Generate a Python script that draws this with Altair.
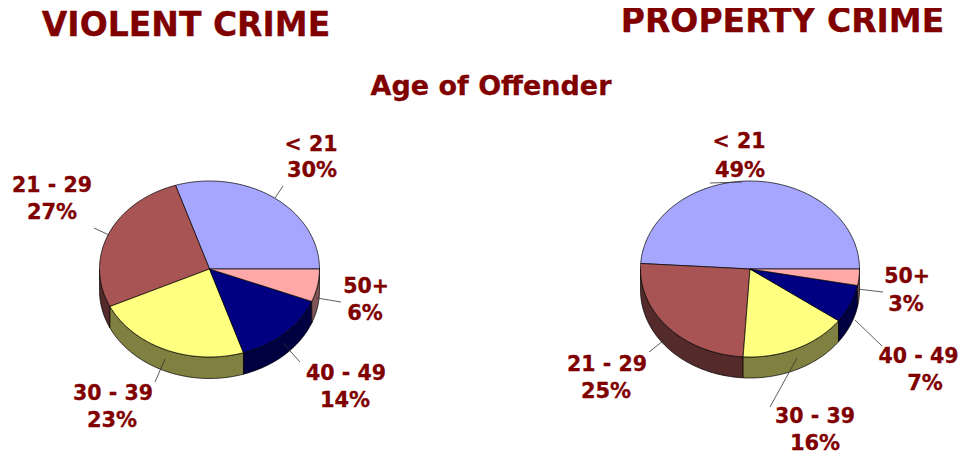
import numpy as np
import altair as alt

ages = ["< 21", "21 - 29", "30 - 39", "40 - 49", "50+"]
violent = [30, 27, 23, 14, 6]
prop = [49, 25, 16, 7, 3]
titles = ["VIOLENT CRIME", "PROPERTY CRIME", "Age of Offender"]

top_colors = ["#A6A6FF", "#A85454", "#FFFF80", "#000080", "#FFA8A8"]
wall_colors = ["#53537F", "#542A2A", "#808040", "#000040", "#805454"]

OX, OY = 8, 8
PIES = [
    dict(values=violent, cx=209.5, cy=269, rx=110, ry=88, depth=21.5),
    dict(values=prop, cx=750, cy=269, rx=109.5, ry=88, depth=21),
]


def arc(p, a0, a1, dy=0.0):
    n = max(2, int(abs(a1 - a0) / 1.5) + 2)
    t = np.radians(np.linspace(a0, a1, n))
    xs = p["cx"] - OX + p["rx"] * np.cos(t)
    ys = p["cy"] - OY + dy - p["ry"] * np.sin(t)
    return [[float(x), float(y)] for x, y in zip(xs, ys)]


def feature(ring, fill):
    ring = ring + [ring[0]]
    return {
        "type": "Feature",
        "properties": {"fill": fill},
        "geometry": {"type": "Polygon", "coordinates": [ring]},
    }


walls, tops = [], []
for p in PIES:
    edges = np.concatenate([[0], np.cumsum(p["values"])]) * 3.6
    for i in range(len(ages)):
        a0, a1 = float(edges[i]), float(edges[i + 1])
        lo, hi = max(a0, 180.0), min(a1, 360.0)
        if hi > lo:
            ring = arc(p, lo, hi) + arc(p, hi, lo, p["depth"])
            walls.append(feature(ring, wall_colors[i]))
    for i in range(len(ages)):
        a0, a1 = float(edges[i]), float(edges[i + 1])
        ring = [[p["cx"] - OX, p["cy"] - OY]] + arc(p, a0, a1)
        tops.append(feature(ring, top_colors[i]))

projection = alt.Projection(type="identity", scale=1, translate=[0, 0])


def shapes(features):
    return (
        alt.Chart(alt.Data(values=features))
        .mark_geoshape(stroke="#000000", strokeWidth=0.7, strokeJoin="round")
        .encode(fill=alt.Fill("properties.fill:N", scale=None))
        .project(**projection.to_dict())
    )


# label anchors in page pixels: (centre x first line, centre x second line,
# baseline of first line, baseline of second line)
label_pos = [
    [(311, 312, 151, 177), (52, 52, 192, 219), (113, 112, 400, 427), (346, 345, 380, 407), (366, 365, 293, 320)],
    [(739, 740, 148, 177), (607, 606, 371, 398), (815, 815, 423, 450), (918.5, 925, 363, 390), (907, 906, 283, 311)],
]
# leader lines in page pixels
leader_pos = [
    [(275, 198, 283, 186), (109, 235, 94, 228), (165, 359, 155, 382), (283, 343, 300, 362), (317, 298, 341, 302)],
    [(742, 182, 710, 183), (668, 337, 649, 352), (797, 358, 770, 407), (855, 320, 882, 346), (857, 289, 883, 292)],
]

label_rows = []
for series, positions in zip([violent, prop], label_pos):
    for age, v, (x1, x2, y1, y2) in zip(ages, series, positions):
        label_rows.append({"t": age, "x": x1 - OX, "y": y1 - OY, "s": 20.5})
        label_rows.append({"t": f"{v}%", "x": x2 - OX, "y": y2 - OY, "s": 21})

leader_rows = [
    {"x": a - OX, "y": b - OY, "x2": c - OX, "y2": d - OY}
    for group in leader_pos
    for a, b, c, d in group
]

title_rows = [
    {"t": titles[0], "x": 186 - OX, "y": 36 - OY, "s": 33},
    {"t": titles[1], "x": 782.5 - OX, "y": 32 - OY, "s": 33},
    {"t": titles[2], "x": 491 - OX, "y": 95 - OY, "s": 27},
]

FONT = "DejaVu Sans"
DARK = "#800000"


def px(field):
    return alt.X(f"{field}:Q", scale=None, axis=None)


def py(field):
    return alt.Y(f"{field}:Q", scale=None, axis=None)


def texts(rows):
    return (
        alt.Chart(alt.Data(values=rows))
        .mark_text(
            font=FONT,
            fontWeight="bold",
            color=DARK,
            stroke=DARK,
            strokeWidth=0.3,
            align="center",
            baseline="alphabetic",
        )
        .encode(x=px("x"), y=py("y"), text="t:N", size=alt.Size("s:Q", scale=None, legend=None))
    )


leaders = (
    alt.Chart(alt.Data(values=leader_rows))
    .mark_rule(color="#333333", strokeWidth=0.8)
    .encode(x=px("x"), y=py("y"), x2=alt.X2("x2:Q"), y2=alt.Y2("y2:Q"))
)

chart = (
    alt.layer(shapes(walls), shapes(tops), leaders, texts(label_rows), texts(title_rows))
    .properties(width=952, height=448, padding=0, autosize=alt.AutoSizeParams(type="none"), background="#FFFFFF")
    .configure_view(stroke=None)
)
chart.save("out.html", embed_options={"renderer": "svg", "actions": False})
